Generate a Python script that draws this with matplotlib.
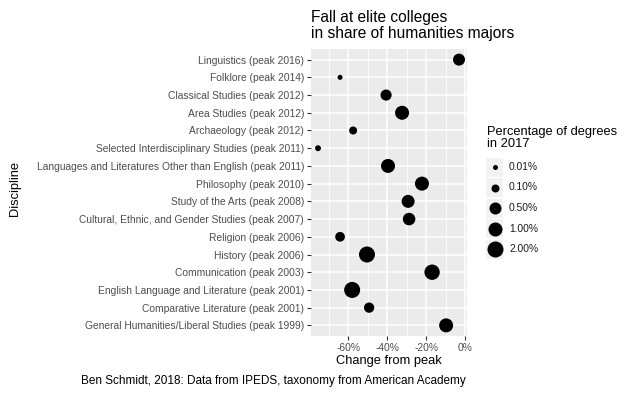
import numpy as np
import matplotlib.pyplot as plt
from matplotlib.patches import Rectangle

plt.rcParams['font.family'] = ['Liberation Sans', 'DejaVu Sans']

# top to bottom, as in the chart
disciplines = [
    'Linguistics (peak 2016)',
    'Folklore (peak 2014)',
    'Classical Studies (peak 2012)',
    'Area Studies (peak 2012)',
    'Archaeology (peak 2012)',
    'Selected Interdisciplinary Studies (peak 2011)',
    'Languages and Literatures Other than English (peak 2011)',
    'Philosophy (peak 2010)',
    'Study of the Arts (peak 2008)',
    'Cultural, Ethnic, and Gender Studies (peak 2007)',
    'Religion (peak 2006)',
    'History (peak 2006)',
    'Communication (peak 2003)',
    'English Language and Literature (peak 2001)',
    'Comparative Literature (peak 2001)',
    'General Humanities/Liberal Studies (peak 1999)',
]
change = [-3.1, -64.1, -40.5, -32.3, -57.4, -75.4, -39.5, -22.1,
          -29.2, -28.7, -64.1, -50.3, -16.9, -57.9, -49.2, -9.7]
share = [0.5, 0.01, 0.35, 1.0, 0.1, 0.02, 1.0, 1.0,
         0.7, 0.6, 0.2, 2.0, 1.6, 2.3, 0.25, 1.0]

size_breaks = [0.01, 0.1, 0.5, 1.0, 2.0]
size_labels = ['0.01%', '0.10%', '0.50%', '1.00%', '2.00%']
size_px = [5, 8, 12, 14, 16]

x_ticks = [-60, -40, -20, 0]
x_minor = [-70, -50, -30, -10]


def diam(v):
    return np.interp(np.log10(v), np.log10(size_breaks), size_px)


def area(v):
    return (diam(np.asarray(v)) * 72 / 100) ** 2


W, H = 640, 396
fig = plt.figure(figsize=(W / 100, H / 100), dpi=100)


def box(l, t, r, b):
    return [l / W, 1 - b / H, (r - l) / W, (b - t) / H]


ax = fig.add_axes(box(311, 49, 467, 336))
ax.set_facecolor('#EBEBEB')
n = len(disciplines)
ypos = np.arange(n)[::-1]
ax.scatter(change, ypos, s=area(share), color='black', linewidths=0, zorder=3)
ax.set_xlim(-79, 1)
ax.set_ylim(-0.6, n - 1 + 0.6)
ax.set_xticks(x_ticks)
ax.set_xticklabels([f'{t}%' for t in x_ticks])
ax.set_xticks(x_minor, minor=True)
ax.set_yticks(ypos)
ax.set_yticklabels(disciplines)
ax.grid(which='major', color='white', lw=1.1)
ax.grid(which='minor', axis='x', color='white', lw=0.55)
ax.set_axisbelow(True)
for sp in ax.spines.values():
    sp.set_visible(False)
ax.tick_params(which='major', length=3, width=0.8, color='#333333',
               labelcolor='#4D4D4D', labelsize=7.4, pad=2)
ax.tick_params(which='minor', length=0)

fig.text(311 / W, 1 - 10 / H, 'Fall at elite colleges\nin share of humanities majors',
         ha='left', va='top', fontsize=11.2, linespacing=1.1)
fig.text(389 / W, 1 - 361 / H, 'Change from peak', ha='center', va='center', fontsize=9.3)
fig.text(15 / W, 1 - 189 / H, 'Discipline', ha='center', va='center',
         rotation=90, fontsize=9.3)
fig.text(466 / W, 1 - 381 / H,
         'Ben Schmidt, 2018: Data from IPEDS, taxonomy from American Academy',
         ha='right', va='center', fontsize=8.5)

# legend drawn in pixel coordinates
lg = fig.add_axes([0, 0, 1, 1])
lg.set_xlim(0, W)
lg.set_ylim(H, 0)
lg.axis('off')
lg.text(487, 126, 'Percentage of degrees\nin 2017', ha='left', va='top',
        fontsize=9.3, linespacing=1.0)
for i, (v, lab) in enumerate(zip(size_breaks, size_labels)):
    cy = 167 + 20.5 * i
    lg.add_patch(Rectangle((486, cy - 9.5), 17, 19, facecolor='#F2F2F2', edgecolor='none'))
    lg.scatter([494.5], [cy], s=area(v), color='black', linewidths=0)
    lg.text(509, cy, lab, ha='left', va='center', fontsize=7.4, color='#1A1A1A')

fig.savefig('out.png', dpi=100)
